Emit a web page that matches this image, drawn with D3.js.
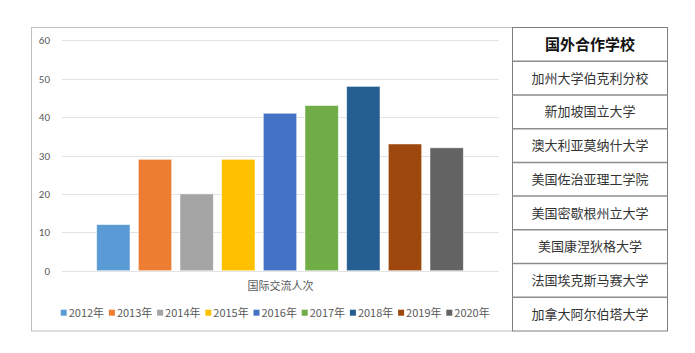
<!DOCTYPE html>
<html>
<head>
<meta charset="utf-8">
<script src="https://cdn.jsdelivr.net/npm/d3@7"></script>
<style>
  body { margin: 0; background: #fff; }
  text { font-family: "Noto Sans CJK SC", "Noto Sans", sans-serif; }
</style>
</head>
<body>
<div id="svg-holder"></div>
<script>
let width = 695,
    height = 353

// data
let category = "国际交流人次"
let years = ["2012年", "2013年", "2014年", "2015年", "2016年", "2017年", "2018年", "2019年", "2020年"]
let visits = [12, 29, 20, 29, 41, 43, 48, 33, 32]
let colors = ["#5b9bd5", "#ed7d31", "#a5a5a5", "#ffc000", "#4472c4", "#70ad47", "#255e91", "#9e480e", "#636363"]
let yTicks = [0, 10, 20, 30, 40, 50, 60]
let tableTitle = "国外合作学校"
let schools = ["加州大学伯克利分校", "新加坡国立大学", "澳大利亚莫纳什大学", "美国佐治亚理工学院",
    "美国密歇根州立大学", "美国康涅狄格大学", "法国埃克斯马赛大学", "加拿大阿尔伯塔大学"]

let svg = d3.select("#svg-holder").append("svg")
    .attr("width", width)
    .attr("height", height)

// chart frame
svg.append("rect")
    .attr("x", 31.5).attr("y", 27.5)
    .attr("width", 481).attr("height", 303.5)
    .attr("fill", "#fff")
    .attr("stroke", "#bfbfbf")

let y = d3.scaleLinear()
    .domain([0, 60])
    .range([270.7, 40.3])

let x = d3.scaleBand()
    .domain(years)
    .range([92.5, 467.5])
    .paddingInner(0.2)
    .paddingOuter(0.1)

// gridlines
svg.append("g")
    .selectAll("line")
    .data(yTicks)
    .join("line")
    .attr("x1", 62).attr("x2", 499)
    .attr("y1", d => Math.round(y(d)) + 0.5)
    .attr("y2", d => Math.round(y(d)) + 0.5)
    .attr("stroke", "#e3e3e3")
    .attr("stroke-width", 1)

// y axis labels
let yAxis = svg.append("g")
    .attr("transform", "translate(56,0)")
    .call(d3.axisLeft(y).tickValues(yTicks).tickSize(0).tickPadding(6))
yAxis.select(".domain").remove()
yAxis.selectAll("text")
    .attr("fill", "#595959")
    .style("font-size", "11px")
    .style("font-family", "Calibri, Carlito, 'Liberation Sans', sans-serif")

// bars
svg.append("g")
    .selectAll("rect")
    .data(years)
    .join("rect")
    .attr("x", d => x(d))
    .attr("width", x.bandwidth())
    .attr("y", (d, i) => y(visits[i]))
    .attr("height", (d, i) => y(0) - y(visits[i]))
    .attr("fill", (d, i) => colors[i])
    .attr("stroke", "#fff")
    .attr("stroke-opacity", 0.6)
    .attr("stroke-width", 0.8)

// category label
svg.append("text")
    .attr("x", 280.5)
    .attr("y", 290)
    .attr("text-anchor", "middle")
    .attr("fill", "#595959")
    .style("font-size", "11px")
    .text(category)

// legend
let legend = svg.append("g")
    .selectAll("g")
    .data(years)
    .join("g")
    .attr("transform", (d, i) => `translate(${60.7 + i * 48.2},312.7)`)
legend.append("rect")
    .attr("x", 0).attr("y", -3)
    .attr("width", 6).attr("height", 6)
    .attr("fill", (d, i) => colors[i])
legend.append("text")
    .attr("x", 8)
    .attr("y", 4)
    .attr("fill", "#595959")
    .style("font-size", "11px")
    .text(d => d)

// table of partner schools
let tx = 512.5, tw = 155, ty = 27.5, rh = (331 - 27.5) / 9
let rows = [tableTitle].concat(schools)
let table = svg.append("g")
table.append("rect")
    .attr("x", tx).attr("y", ty)
    .attr("width", tw).attr("height", rh * rows.length)
    .attr("fill", "#fff")
    .attr("stroke", "#7f7f7f")
    .attr("stroke-width", 1)
table.selectAll("line")
    .data(rows.slice(1))
    .join("line")
    .attr("x1", tx).attr("x2", tx + tw)
    .attr("y1", (d, i) => ty + rh * (i + 1))
    .attr("y2", (d, i) => ty + rh * (i + 1))
    .attr("stroke", "#8c8c8c")
    .attr("stroke-width", 1.5)
table.selectAll("text")
    .data(rows)
    .join("text")
    .attr("x", tx + tw / 2)
    .attr("y", (d, i) => ty + rh * i + rh / 2)
    .attr("dy", "0.36em")
    .attr("text-anchor", "middle")
    .attr("fill", (d, i) => i === 0 ? "#111" : "#333")
    .style("font-size", (d, i) => i === 0 ? "15px" : "13px")
    .style("font-weight", (d, i) => i === 0 ? "bold" : "normal")
    .text(d => d)
</script>
</body>
</html>
